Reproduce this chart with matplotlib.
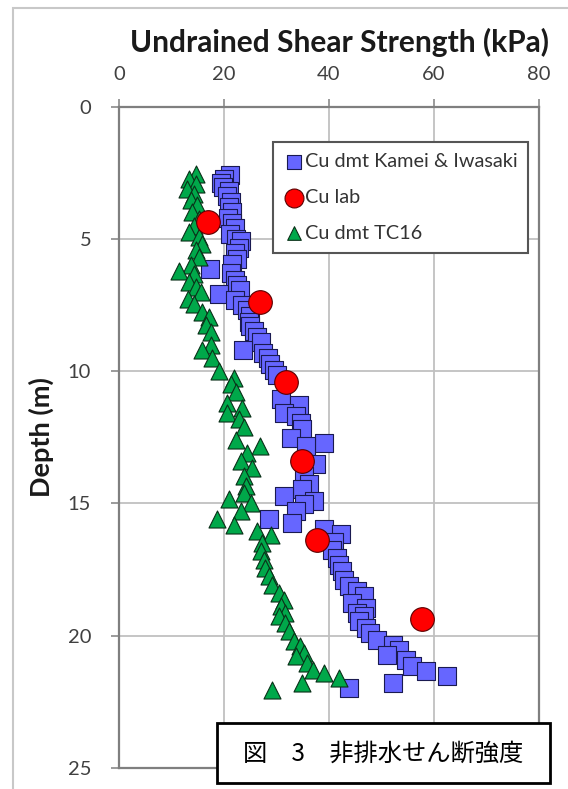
import matplotlib
matplotlib.use('Agg')
import matplotlib.pyplot as plt
from matplotlib.patches import Rectangle

# Cu dmt Kamei & Iwasaki (kPa, depth m)
kamei_cu = [21.2, 20.0, 19.5, 19.8, 21.0, 20.5, 21.3, 21.0, 21.5, 20.8,
            21.6, 22.0, 21.2, 22.3, 23.2, 22.8, 22.0, 22.5, 21.5, 17.3,
            21.3, 22.0, 22.5, 23.0, 19.1, 22.0, 23.5, 24.3, 25.0, 24.7,
            25.0, 25.8, 26.3, 27.0, 23.7, 27.5, 28.3, 28.8, 29.5, 30.0,
            30.8, 34.3, 31.4, 33.7, 34.6, 34.9, 32.7, 39.0, 35.6, 37.5,
            35.2, 36.2, 34.9, 31.4, 37.1, 35.2, 33.7, 28.6, 33.0, 39.0,
            42.3, 41.0, 40.6, 41.6, 41.9, 42.5, 42.9, 43.8, 45.4, 46.7,
            44.4, 47.0, 45.4, 46.7, 45.7, 47.0, 47.9, 49.2, 52.1, 53.4,
            51.1, 54.6, 55.9, 58.4, 62.5, 52.1, 43.8]
kamei_depth = [2.6, 2.75, 2.9, 3.05, 3.2, 3.4, 3.6, 3.8, 4.0, 4.2,
               4.4, 4.6, 4.8, 5.0, 5.1, 5.35, 5.55, 5.75, 5.95, 6.13,
               6.3, 6.55, 6.75, 6.95, 7.08, 7.3, 7.5, 7.7, 7.9, 8.15,
               8.3, 8.5, 8.7, 8.9, 9.2, 9.3, 9.5, 9.75, 9.95, 10.15,
               11.07, 11.3, 11.57, 11.7, 11.95, 12.2, 12.52, 12.7, 12.83, 13.5,
               13.97, 14.28, 14.47, 14.72, 14.9, 15.04, 15.29, 15.6, 15.75, 15.98,
               16.15, 16.44, 16.75, 17.07, 17.32, 17.57, 17.9, 18.14, 18.32, 18.5,
               18.77, 18.95, 19.14, 19.27, 19.46, 19.71, 19.9, 20.15, 20.34, 20.53,
               20.72, 20.9, 21.16, 21.35, 21.54, 21.79, 21.98]

# Cu lab
lab_cu = [17.0, 26.8, 31.9, 34.9, 37.8, 57.8]
lab_depth = [4.37, 7.37, 10.4, 13.4, 16.38, 19.37]

# Cu dmt TC16
tc16_cu = [14.6, 13.4, 14.6, 13.0, 14.3, 13.7, 14.9, 13.9, 15.3, 14.3,
           13.4, 15.3, 15.9, 14.6, 15.3, 13.7, 11.5, 14.3, 13.4, 14.6,
           15.6, 13.1, 14.3, 15.9, 17.2, 16.5, 17.5, 17.5, 15.9, 17.8,
           19.0, 21.9, 21.3, 22.2, 20.6, 23.5, 20.6, 22.9, 23.8, 22.2,
           26.8, 24.4, 23.2, 25.4, 23.8, 24.1, 23.8, 21.0, 25.1, 23.2,
           18.7, 21.9, 26.3, 28.9, 27.3, 27.0, 27.6, 27.9, 28.6, 29.2,
           30.5, 31.4, 30.8, 31.7, 30.5, 31.7, 32.4, 33.3, 34.4, 35.3,
           33.8, 35.9, 36.9, 39.1, 41.9, 34.9, 29.2]
tc16_depth = [2.54, 2.73, 2.92, 3.1, 3.3, 3.55, 3.74, 3.99, 4.24, 4.5,
              4.75, 4.94, 5.19, 5.44, 5.69, 6.0, 6.2, 6.32, 6.64, 6.83,
              7.0, 7.27, 7.46, 7.77, 7.96, 8.27, 8.53, 9.0, 9.2, 9.5,
              10.0, 10.25, 10.5, 10.8, 11.2, 11.4, 11.6, 11.8, 12.1, 12.6,
              12.83, 13.1, 13.4, 13.65, 13.97, 14.35, 14.6, 14.85, 14.97, 15.3,
              15.6, 15.8, 16.06, 16.18, 16.5, 16.81, 17.13, 17.44, 17.76, 18.07,
              18.39, 18.64, 18.89, 19.14, 19.27, 19.52, 19.84, 20.21, 20.4, 20.65,
              20.78, 21.03, 21.28, 21.41, 21.6, 21.79, 22.04]

x_ticks = [0, 20, 40, 60, 80]
y_ticks = [0, 5, 10, 15, 20, 25]

plt.rcParams['font.family'] = ['Lato', 'DejaVu Sans']

fig = plt.figure(figsize=(5.68, 7.89), dpi=100)
ax = fig.add_axes([119/568, 1-768/789, 420/568, (768-106.5)/789])

ax.scatter(kamei_cu, kamei_depth, marker='s', s=150, c='#6666FF',
           edgecolors='#1a1a50', linewidths=0.8, label='Cu dmt Kamei & Iwasaki', zorder=3)
ax.scatter(lab_cu, lab_depth, marker='o', s=290, c='#FF0000',
           edgecolors='#5a0000', linewidths=0.8, label='Cu lab', zorder=4)
ax.scatter(tc16_cu, tc16_depth, marker='^', s=150, c='#00A84A',
           edgecolors='#0a3018', linewidths=0.8, label='Cu dmt TC16', zorder=3)

ax.set_xlim(0, 80)
ax.set_ylim(25, 0)
ax.set_xticks(x_ticks)
ax.set_yticks(y_ticks)
ax.xaxis.tick_top()
ax.tick_params(axis='both', labelsize=14.5, colors='#8a8a8a', labelcolor='#404040',
               length=6, width=1.2, direction='out')
ax.tick_params(axis='x', pad=11)
ax.tick_params(axis='y', pad=14)
ax.grid(True, color='#c0c0c0', linewidth=1.3)
ax.set_axisbelow(True)
for sp in ax.spines.values():
    sp.set_color('#7f7f7f')
    sp.set_linewidth(1.6)

ax.set_ylabel('Depth (m)', fontsize=19.5, fontweight='bold', labelpad=10,
              color='#1a1a1a')
fig.text(340/568, 1-42/789, 'Undrained Shear Strength (kPa)', fontsize=21.5,
         fontweight='bold', ha='center', va='center', color='#1a1a1a')

leg = ax.legend(loc='upper left', bbox_to_anchor=(263/568, 1-132/789),
                bbox_transform=fig.transFigure, fontsize=14.3, frameon=True,
                fancybox=False, edgecolor='#555555', framealpha=1,
                labelspacing=0.95, handletextpad=0.05, borderpad=0.55,
                handlelength=1.0, markerscale=0.8)
leg.get_frame().set_linewidth(1.5)
for t in leg.get_texts():
    t.set_color('#333333')

# outer frame of the figure
fig.patches.append(Rectangle((12.5/568, -0.05), 1.2, 1-8/789+0.05,
                             transform=fig.transFigure, fill=False,
                             edgecolor='#c8c8c8', linewidth=1.5, zorder=0))

# caption box
fig.patches.append(Rectangle((217/568, 1-783/789), 333/568, 60/789,
                             transform=fig.transFigure, facecolor='white',
                             edgecolor='black', linewidth=2, zorder=10))
fig.text(383/568, 1-754/789, '図\u30003\u3000非排水せん断強度', fontsize=17.5,
         family=['Noto Sans CJK JP', 'DejaVu Sans'], ha='center', va='center',
         color='black', zorder=11)

fig.savefig('out.png', dpi=100)
